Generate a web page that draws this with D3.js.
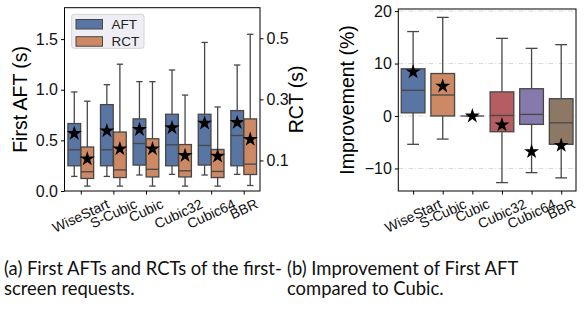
<!DOCTYPE html>
<html>
<head>
<meta charset="utf-8">
<script src="https://cdn.jsdelivr.net/npm/d3@7"></script>
<style>
  body { margin: 0; background: #fff; }
  svg { display: block; }
  .tick text { font-family: "Liberation Sans", Arial, sans-serif; fill: #111; }
</style>
</head>
<body>
<div id="svg"></div>
<script>
// categories shared by both panels
const categories = ['WiseStart', 'S-Cubic', 'Cubic', 'Cubic32', 'Cubic64', 'BBR']

// box stats: [whisker low, q1, median, q3, whisker high]
const aftStats = [
  [0.144, 0.249, 0.407, 0.666, 0.978],
  [0.144, 0.249, 0.407, 0.853, 1.05],
  [0.158, 0.256, 0.469, 0.712, 1.08],
  [0.164, 0.249, 0.456, 0.758, 1.195],
  [0.158, 0.256, 0.45, 0.758, 1.467],
  [0.164, 0.249, 0.548, 0.794, 1.244]
]
const aftMeans = [0.568, 0.594, 0.607, 0.624, 0.67, 0.676]

const rctStats = [
  [0.016, 0.041, 0.063, 0.144, 0.294],
  [0.016, 0.044, 0.069, 0.193, 0.415],
  [0.016, 0.046, 0.071, 0.171, 0.358],
  [0.016, 0.046, 0.066, 0.152, 0.314],
  [0.016, 0.044, 0.064, 0.136, 0.275],
  [0.018, 0.054, 0.088, 0.236, 0.513]
]
const rctMeans = [0.105, 0.138, 0.138, 0.116, 0.114, 0.169]

const impStats = [
  [-5.4, 0.6, 4.9, 9.0, 16.1],
  [-4.4, 0, 4.0, 8.1, 18.8],
  [0, 0, 0, 0, 0],
  [-12.7, -3.0, 0.1, 4.6, 14.8],
  [-10.8, -1.6, 0.3, 5.2, 12.9],
  [-11.8, -5.4, -1.3, 3.3, 13.6]
]
const impMeans = [8.4, 5.7, 0, -1.7, -6.8, -5.6]

const aftTicks = [0, 0.5, 1.0, 1.5]
const rctTicks = [0.1, 0.3, 0.5]
const impTicks = [-10, 0, 10, 20]

const seriesNames = ['AFT', 'RCT']
const palette = ['#5975a4', '#cc8963', '#5f9e6e', '#b55d60', '#857aab', '#8d7866']
const lineColor = '#474747'

const width = 588
const height = 310

const svg = d3.select('#svg')
  .append('svg')
    .attr('width', width)
    .attr('height', height)

const star = d3.symbol().type(d3.symbolStar).size(70)

// draws one box + whiskers + mean star
function drawBox(g, cx, w, s, mean, y, fill) {
  const half = w / 2
  g.append('line')
    .attr('x1', cx).attr('x2', cx)
    .attr('y1', y(s[0])).attr('y2', y(s[1]))
    .attr('stroke', lineColor).attr('stroke-width', 1.3)
  g.append('line')
    .attr('x1', cx).attr('x2', cx)
    .attr('y1', y(s[3])).attr('y2', y(s[4]))
    .attr('stroke', lineColor).attr('stroke-width', 1.3)
  ;[s[0], s[4]].forEach(v => {
    g.append('line')
      .attr('x1', cx - half / 2).attr('x2', cx + half / 2)
      .attr('y1', y(v)).attr('y2', y(v))
      .attr('stroke', lineColor).attr('stroke-width', 1.3)
  })
  g.append('rect')
    .attr('x', cx - half).attr('width', w)
    .attr('y', y(s[3])).attr('height', Math.max(0, y(s[1]) - y(s[3])))
    .attr('fill', fill)
    .attr('stroke', lineColor).attr('stroke-width', 1.3)
  g.append('line')
    .attr('x1', cx - half).attr('x2', cx + half)
    .attr('y1', y(s[2])).attr('y2', y(s[2]))
    .attr('stroke', lineColor).attr('stroke-width', 1.3)
  g.append('path')
    .attr('d', star)
    .attr('transform', 'translate(' + cx + ',' + y(mean) + ')')
    .attr('fill', '#000')
}

function xLabels(g, x, top) {
  categories.forEach((c, i) => {
    const t = g.append('text')
      .attr('font-family', '"Liberation Sans", Arial, sans-serif')
      .attr('font-size', 14)
      .attr('fill', '#111')
      .attr('text-anchor', 'middle')
      .attr('dy', '0.35em')
      .text(c)
    const w = t.node().getComputedTextLength()
    const a = 25 * Math.PI / 180
    const cy = top + (w * Math.sin(a) + 13 * Math.cos(a)) / 2
    t.attr('transform', 'translate(' + x(i) + ',' + cy + ') rotate(-25)')
  })
}

// ---------- panel (a) ----------
const a = { left: 64.5, right: 260, top: 7.7, bottom: 191 }
const xa = d3.scaleLinear().domain([-0.5, 5.5]).range([a.left, a.right])
const ya = d3.scaleLinear().domain([0, 1.81]).range([a.bottom, a.top])
const yr = d3.scaleLinear().domain([0, 0.6]).range([a.bottom, a.top])
const bw = xa(0.39) - xa(0)

const ga = svg.append('g')

categories.forEach((c, i) => {
  drawBox(ga, xa(i - 0.2), bw, aftStats[i], aftMeans[i], ya, palette[0])
  drawBox(ga, xa(i + 0.2), bw, rctStats[i], rctMeans[i], yr, palette[1])
})

ga.append('rect')
  .attr('x', a.left).attr('y', a.top)
  .attr('width', a.right - a.left).attr('height', a.bottom - a.top)
  .attr('fill', 'none').attr('stroke', '#000').attr('stroke-width', 1)

ga.append('g')
  .attr('transform', 'translate(' + a.left + ',0)')
  .call(d3.axisLeft(ya).tickValues(aftTicks).tickFormat(d3.format('.1f'))
    .tickSize(3.5).tickPadding(3))
  .call(g => g.select('.domain').remove())
  .selectAll('text').attr('font-size', 16)

ga.append('g')
  .attr('transform', 'translate(' + a.right + ',0)')
  .call(d3.axisRight(yr).tickValues(rctTicks).tickFormat(d3.format('.1f'))
    .tickSize(3.5).tickPadding(3))
  .call(g => g.select('.domain').remove())
  .selectAll('text').attr('font-size', 16)

ga.append('g')
  .attr('transform', 'translate(0,' + a.bottom + ')')
  .call(d3.axisBottom(xa).tickValues(d3.range(categories.length)).tickFormat('')
    .tickSize(3.5))
  .call(g => g.select('.domain').remove())

xLabels(ga, xa, 197)

ga.append('text')
  .attr('transform', 'translate(' + 27 + ',' + ((a.top + a.bottom) / 2) + ') rotate(-90)')
  .attr('text-anchor', 'middle')
  .attr('font-family', '"Liberation Sans", Arial, sans-serif')
  .attr('font-size', 19.5)
  .text('First AFT (s)')

ga.append('text')
  .attr('transform', 'translate(' + 303 + ',' + ((a.top + a.bottom) / 2) + ') rotate(-90)')
  .attr('text-anchor', 'middle')
  .attr('font-family', '"Liberation Sans", Arial, sans-serif')
  .attr('font-size', 19.5)
  .text('RCT (s)')

// legend
const lg = ga.append('g')
lg.append('rect')
  .attr('x', 71.7).attr('y', 14.3).attr('width', 72.3).attr('height', 34)
  .attr('rx', 2.5)
  .attr('fill', '#eeeef4').attr('stroke', '#d4d4d8')
seriesNames.forEach((n, i) => {
  lg.append('rect')
    .attr('x', 76).attr('y', 19.5 + i * 17.2)
    .attr('width', 26.5).attr('height', 9.5)
    .attr('fill', palette[i]).attr('stroke', lineColor).attr('stroke-width', 1)
  lg.append('text')
    .attr('x', 111.5).attr('y', 28.8 + i * 17.2)
    .attr('font-family', '"Liberation Sans", Arial, sans-serif')
    .attr('font-size', 13.5)
    .attr('fill', '#222')
    .text(n)
})

// ---------- panel (b) ----------
const b = { left: 398.3, right: 576, top: 9, bottom: 191 }
const xb = d3.scaleLinear().domain([-0.5, 5.5]).range([b.left, b.right])
const yb = d3.scaleLinear().domain([-14.3, 20.4]).range([b.bottom, b.top])

const gb = svg.append('g')

gb.append('g')
  .selectAll('line')
  .data(impTicks)
  .join('line')
    .attr('x1', b.left).attr('x2', b.right)
    .attr('y1', d => yb(d)).attr('y2', d => yb(d))
    .attr('stroke', '#cfcfcf').attr('stroke-width', 0.8)
    .attr('stroke-dasharray', '5,2,1,2')

categories.forEach((c, i) => {
  drawBox(gb, xb(i), xb(0.8) - xb(0), impStats[i], impMeans[i], yb, palette[i])
})

gb.append('rect')
  .attr('x', b.left).attr('y', b.top)
  .attr('width', b.right - b.left).attr('height', b.bottom - b.top)
  .attr('fill', 'none').attr('stroke', '#000').attr('stroke-width', 1)

gb.append('g')
  .attr('transform', 'translate(' + b.left + ',0)')
  .call(d3.axisLeft(yb).tickValues(impTicks).tickFormat(d => d < 0 ? '\u2212' + Math.abs(d) : d)
    .tickSize(3.5).tickPadding(3))
  .call(g => g.select('.domain').remove())
  .selectAll('text').attr('font-size', 16)

gb.append('g')
  .attr('transform', 'translate(0,' + b.bottom + ')')
  .call(d3.axisBottom(xb).tickValues(d3.range(categories.length)).tickFormat('')
    .tickSize(3.5))
  .call(g => g.select('.domain').remove())

xLabels(gb, xb, 197)

gb.append('text')
  .attr('transform', 'translate(' + 354 + ',' + ((b.top + b.bottom) / 2) + ') rotate(-90)')
  .attr('text-anchor', 'middle')
  .attr('font-family', '"Liberation Sans", Arial, sans-serif')
  .attr('font-size', 19.5)
  .text('Improvement (%)')

// ---------- captions ----------
const captions = [
  { x: 4, y: 275, text: '(a) First AFTs and RCTs of the first-' },
  { x: 4, y: 295, text: 'screen requests.' },
  { x: 287, y: 275, text: '(b) Improvement of First AFT' },
  { x: 287, y: 295, text: 'compared to Cubic.' }
]
svg.append('g')
  .selectAll('text')
  .data(captions)
  .join('text')
    .attr('x', d => d.x).attr('y', d => d.y)
    .attr('font-family', 'Lato, "Open Sans", sans-serif')
    .attr('font-size', 18.4)
    .attr('fill', '#111')
    .text(d => d.text)
</script>
</body>
</html>
